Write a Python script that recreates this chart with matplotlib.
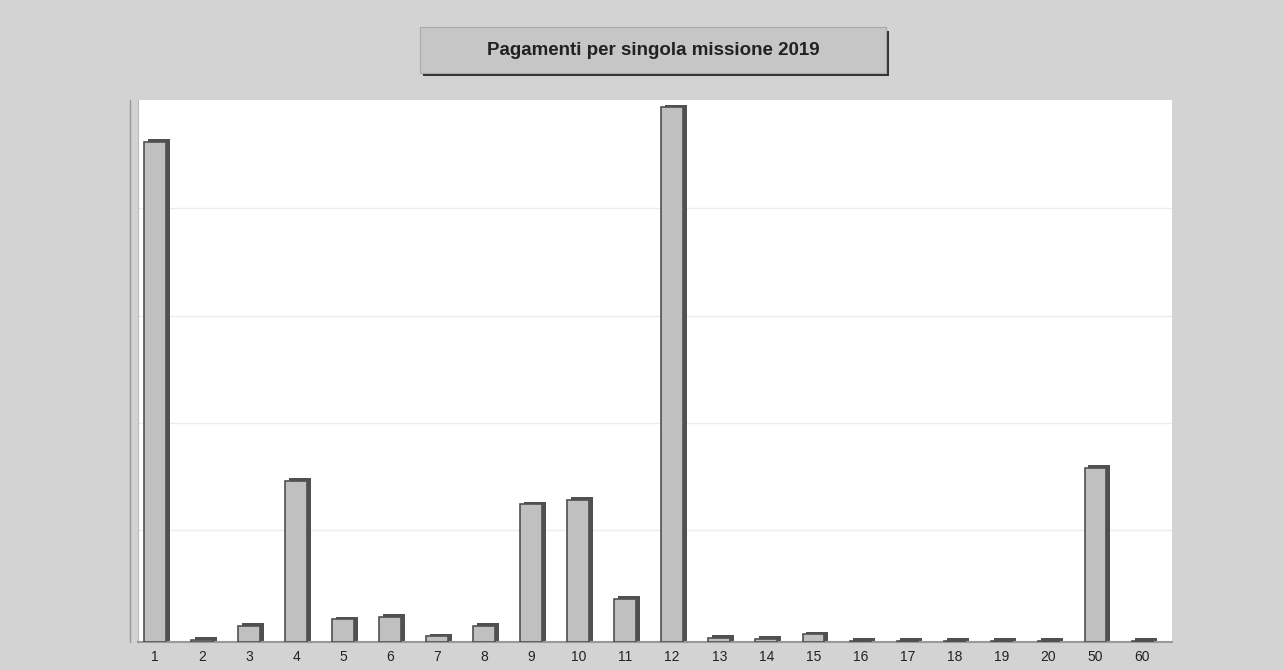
import numpy as np
import matplotlib.pyplot as plt
from matplotlib.patches import Rectangle

# categories and values (arbitrary units)
categories = ['1', '2', '3', '4', '5', '6', '7', '8', '9', '10', '11', '12',
              '13', '14', '15', '16', '17', '18', '19', '20', '50', '60']
values = [466, 2, 15, 150, 21, 23, 5, 15, 128, 132, 40, 498,
          4, 3, 7, 1, 1, 1, 1, 1, 162, 1]
grid_levels = [104, 204, 304, 404]

fig = plt.figure(figsize=(12.84, 6.70), dpi=100)
fig.patch.set_facecolor('#d3d3d3')

ax = fig.add_axes([0.1075, 0.042, 0.805, 0.809])
ax.set_facecolor('white')

x = np.arange(len(categories))
w = 0.46

# dark "side" of the 3D bars, then the face
ax.bar(x + 0.08, np.array(values) + 2.5, w, color='#505050', zorder=2)
ax.bar(x, values, w, color='#c0c0c0', edgecolor='#505050', linewidth=1.2, zorder=3)

ax.set_xlim(-0.36, len(categories) - 1 + 0.62)
ax.set_ylim(0, 505)
ax.set_yticks(grid_levels)
ax.yaxis.grid(True, color='#ececec', linewidth=1)
ax.set_axisbelow(True)
ax.tick_params(axis='y', left=False, labelleft=False)

ax.set_xticks(x)
ax.set_xticklabels(categories, fontsize=10, family='Liberation Sans', color='#222222')
ax.tick_params(axis='x', length=0, pad=6)

for s in ['top', 'right']:
    ax.spines[s].set_visible(False)
ax.spines['left'].set_color('#bbbbbb')
ax.spines['bottom'].set_color('#999999')
ax.spines['bottom'].set_linewidth(1.5)

# left wall line
fig.add_artist(plt.Line2D([0.1015, 0.1015], [0.042, 0.851], color='#999999', lw=1))

# title box with shadow
fig.add_artist(Rectangle((0.3295, 0.886), 0.363, 0.068, transform=fig.transFigure,
                         facecolor='#333333', edgecolor='none'))
fig.add_artist(Rectangle((0.327, 0.891), 0.363, 0.068, transform=fig.transFigure,
                         facecolor='#c6c6c6', edgecolor='#aaaaaa', lw=0.8))
fig.text(0.5085, 0.925, 'Pagamenti per singola missione 2019', ha='center', va='center',
         fontsize=13.5, fontweight='bold', family='Liberation Sans', color='#222222')

plt.savefig('out.png', dpi=100, facecolor=fig.get_facecolor())
